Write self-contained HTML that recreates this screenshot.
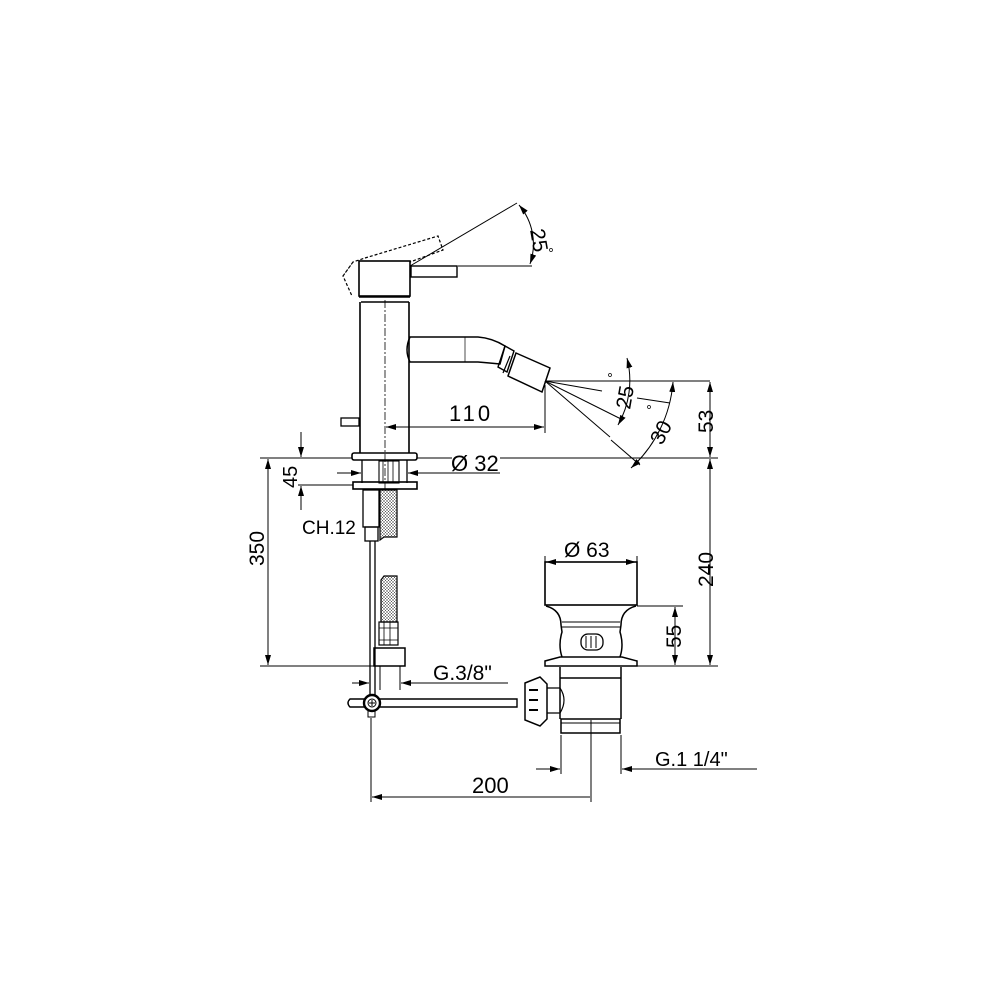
<!DOCTYPE html>
<html><head><meta charset="utf-8"><style>html,body{margin:0;padding:0;background:#fff}svg{display:block}</style></head>
<body>
<svg width="1000" height="1000" viewBox="0 0 1000 1000" xmlns="http://www.w3.org/2000/svg" font-family="Liberation Sans, Arial, sans-serif" fill="none" stroke="#000" stroke-width="1.3">
<defs>
<marker id="a" viewBox="0 0 10 6" refX="10" refY="3" markerWidth="10" markerHeight="6" orient="auto-start-reverse" markerUnits="userSpaceOnUse"><path d="M0,0L10,3L0,6z" fill="#000" stroke="none"/></marker>
<pattern id="h" width="3" height="3" patternUnits="userSpaceOnUse"><rect width="3" height="3" fill="#fff" stroke="none"/><path d="M0,0L3,3M3,0L0,3" stroke="#555" stroke-width="0.5"/></pattern>
</defs>
<path d="M343,276 L353,262 L365,258 M353,262 L343,276 L352,296 M365,258 L438,236 L443,250 L410,262" stroke-dasharray="3,2" stroke-width="1.2"/>
<line x1="410" y1="266" x2="517" y2="203" stroke-width="1"/>
<line x1="458" y1="266" x2="532" y2="266" stroke-width="1"/>
<path d="M519,205 A60,60 0 0 1 530,264" stroke-width="1" marker-start="url(#a)" marker-end="url(#a)"/>
<text x="0" y="0" transform="translate(530,230) rotate(80)" font-size="21" fill="#000" stroke="none">25</text>
<circle cx="551" cy="250" r="1.5" stroke-width="0.7"/>
<rect x="359" y="261" width="51" height="35" stroke-width="1.6"/>
<rect x="411" y="266" width="46" height="11" stroke-width="1.4"/>
<path d="M359,297 L410,297 M361,302 L409,302 M360,302 L360,453 M409,302 L409,453" stroke-width="1.6"/>
<rect x="341" y="418" width="18" height="8" stroke-width="1.3"/>
<line x1="385" y1="300" x2="385" y2="489" stroke-dasharray="8,2,2,2" stroke-width="0.8"/>
<path d="M410,337 L478,337 Q492,338 505,346 L500,364 Q490,363 478,362 L410,362 Q404,350 410,337 Z" stroke-width="1.5"/>
<line x1="465" y1="337" x2="465" y2="362" stroke-width="0.7"/>
<path d="M505,346 L514,351 L507,372 L498,367 Z" stroke-width="1.4"/>
<path d="M516,353 L550,368 L542,392 L508,376 Z" stroke-width="1.5"/>
<line x1="510" y1="356" x2="503" y2="373" stroke-width="1.2"/>
<g stroke-width="1">
<line x1="545" y1="381" x2="710" y2="381"/>
<line x1="545" y1="381" x2="602" y2="391"/>
<line x1="545" y1="381" x2="621" y2="419"/>
<line x1="545" y1="381" x2="610" y2="437"/>
<line x1="611" y1="440" x2="640" y2="465"/>
<line x1="637" y1="398" x2="670" y2="403"/>
<path d="M627,358 A90,90 0 0 1 618,425" marker-start="url(#a)" marker-end="url(#a)"/>
<path d="M673,382 A130,130 0 0 1 631,468" marker-start="url(#a)" marker-end="url(#a)"/>
</g>
<text transform="translate(630,410) rotate(-80)" font-size="21" fill="#000" stroke="none">25</text>
<text transform="translate(662,446) rotate(-63)" font-size="21" fill="#000" stroke="none">30</text>
<circle cx="610" cy="375" r="1.5" stroke-width="0.7"/>
<circle cx="649" cy="407" r="1.5" stroke-width="0.7"/>
<line x1="545" y1="385" x2="545" y2="433" stroke-width="1"/>
<line x1="386" y1="427" x2="544" y2="427" stroke-width="1" marker-start="url(#a)" marker-end="url(#a)"/>
<text x="449" y="421" font-size="22" fill="#000" stroke="none" letter-spacing="3">110</text>
<rect x="352" y="453" width="65" height="7" rx="2" stroke-width="1.6"/>
<line x1="260" y1="458" x2="352" y2="458" stroke-width="1"/>
<line x1="417" y1="458" x2="452" y2="458" stroke-width="1"/>
<line x1="500" y1="458" x2="718" y2="458" stroke-width="1"/>
<line x1="362" y1="460" x2="362" y2="483" stroke-width="1.3"/>
<line x1="407" y1="460" x2="407" y2="483" stroke-width="1.3"/>
<rect x="379" y="461" width="20" height="22" stroke-width="1.1"/>
<path d="M383,461V483M388,461V483M393,461V483" stroke-width="0.8"/>
<line x1="337" y1="473" x2="361" y2="473" stroke-width="1" marker-end="url(#a)"/>
<line x1="433" y1="473" x2="408" y2="473" stroke-width="1" marker-end="url(#a)"/>
<line x1="433" y1="473" x2="500" y2="473" stroke-width="1"/>
<text x="451" y="471" font-size="22" fill="#000" stroke="none">Ø 32</text>
<rect x="353" y="482" width="64" height="7" stroke-width="1.6"/>
<line x1="298" y1="485" x2="353" y2="485" stroke-width="1"/>
<line x1="301" y1="432" x2="301" y2="457" stroke-width="1" marker-end="url(#a)"/>
<line x1="301" y1="510" x2="301" y2="486" stroke-width="1" marker-end="url(#a)"/>
<text transform="translate(297,488) rotate(-90)" font-size="20" fill="#000" stroke="none">45</text>
<rect x="363" y="490" width="16" height="37" stroke-width="1.3"/>
<rect x="365" y="527" width="13" height="14" stroke-width="1.3"/>
<text x="302" y="534" font-size="19" fill="#000" stroke="none">CH.12</text>
<path d="M380,490 L397,490 L397,537 L384,537 L380,540 Z" fill="url(#h)" stroke-width="1.2"/>
<path d="M381,580 L384,576 L397,576 L397,622 L381,622 Z" fill="url(#h)" stroke-width="1.2"/>
<rect x="379" y="622" width="19" height="23" stroke-width="1.2"/>
<path d="M384,622V645M390,622V645M379,628H398M379,640H398" stroke-width="0.8"/>
<rect x="374" y="648" width="31" height="18" stroke-width="1.5"/>
<line x1="370" y1="541" x2="370" y2="700" stroke-width="1.3"/>
<line x1="375" y1="541" x2="375" y2="700" stroke-width="1.3"/>
<line x1="380" y1="666" x2="380" y2="690" stroke-width="1"/>
<line x1="400" y1="666" x2="400" y2="690" stroke-width="1"/>
<line x1="352" y1="683" x2="369" y2="683" stroke-width="1" marker-end="url(#a)"/>
<line x1="420" y1="683" x2="401" y2="683" stroke-width="1" marker-end="url(#a)"/>
<line x1="420" y1="683" x2="508" y2="683" stroke-width="1"/>
<text x="433" y="680" font-size="21" fill="#000" stroke="none">G.3/8"</text>
<line x1="260" y1="666" x2="374" y2="666" stroke-width="1"/>
<line x1="268" y1="459" x2="268" y2="665" stroke-width="1" marker-start="url(#a)" marker-end="url(#a)"/>
<text transform="translate(264,566) rotate(-90)" font-size="21" fill="#000" stroke="none">350</text>
<line x1="637" y1="666" x2="718" y2="666" stroke-width="1"/>
<line x1="710" y1="382" x2="710" y2="457" stroke-width="1" marker-start="url(#a)" marker-end="url(#a)"/>
<line x1="710" y1="459" x2="710" y2="665" stroke-width="1" marker-start="url(#a)" marker-end="url(#a)"/>
<text transform="translate(713,433) rotate(-90)" font-size="21" fill="#000" stroke="none">53</text>
<text transform="translate(713,587) rotate(-90)" font-size="21" fill="#000" stroke="none">240</text>
<path d="M350,699 L517,699 L517,707 L350,707 Q346,703 350,699 Z" stroke-width="1.4"/>
<circle cx="372" cy="703" r="8" stroke-width="2.4" fill="#fff"/>
<circle cx="372" cy="703" r="4" stroke-width="1"/>
<path d="M369,703H375M372,700V706" stroke-width="1"/>
<rect x="368" y="711" width="7" height="6" stroke-width="1"/>
<line x1="371" y1="718" x2="371" y2="802" stroke-width="1"/>
<line x1="372" y1="797" x2="590" y2="797" stroke-width="1" marker-start="url(#a)"/>
<text x="472" y="793" font-size="22" fill="#000" stroke="none">200</text>
<line x1="545" y1="556" x2="545" y2="605" stroke-width="1"/>
<line x1="637" y1="556" x2="637" y2="605" stroke-width="1"/>
<line x1="546" y1="562" x2="636" y2="562" stroke-width="1" marker-start="url(#a)" marker-end="url(#a)"/>
<text x="564" y="557" font-size="21" fill="#000" stroke="none">Ø 63</text>
<rect x="545" y="562" width="92" height="43" stroke-width="1.6"/>
<path d="M546,606 Q561,610 561,625 L562,632 Q558,645 562,657 M636,606 Q621,610 621,625 L620,632 Q624,645 620,657" stroke-width="1.5"/>
<path d="M562,622H620M562,627H620" stroke-width="1"/>
<rect x="581" y="634" width="22" height="16" rx="7" stroke-width="1.3"/>
<path d="M586,636V648M591,636V648M596,636V648" stroke-width="1"/>
<path d="M560,657 L622,657 L637,661 L637,666 L545,666 L545,661 Z" stroke-width="1.5"/>
<line x1="637" y1="606" x2="683" y2="606" stroke-width="1"/>
<line x1="675" y1="607" x2="675" y2="665" stroke-width="1" marker-start="url(#a)" marker-end="url(#a)"/>
<text transform="translate(681,648) rotate(-90)" font-size="21" fill="#000" stroke="none">55</text>
<path d="M560,667 V719 M621,667 V719 M560,678 H621" stroke-width="1.5"/>
<path d="M545,688 L560,688 Q568,700 560,713 L545,713" stroke-width="1.2"/>
<rect x="561" y="719" width="59" height="14" stroke-width="1.5"/>
<line x1="561" y1="723" x2="620" y2="723" stroke-width="1"/>
<path d="M525,683 L540,677 L547,684 L547,719 L540,726 L525,720 Z" stroke-width="1.5" fill="#fff"/>
<path d="M529,690H538M529,700H538M529,710H538" stroke-width="2"/>
<line x1="591" y1="720" x2="591" y2="802" stroke-width="1"/>
<line x1="561" y1="735" x2="561" y2="774" stroke-width="1"/>
<line x1="621" y1="735" x2="621" y2="774" stroke-width="1"/>
<line x1="536" y1="769" x2="560" y2="769" stroke-width="1" marker-end="url(#a)"/>
<line x1="648" y1="769" x2="622" y2="769" stroke-width="1" marker-end="url(#a)"/>
<line x1="640" y1="769" x2="757" y2="769" stroke-width="1"/>
<text x="655" y="766" font-size="20" fill="#000" stroke="none">G.1 1/4"</text>
</svg>
</body></html>
